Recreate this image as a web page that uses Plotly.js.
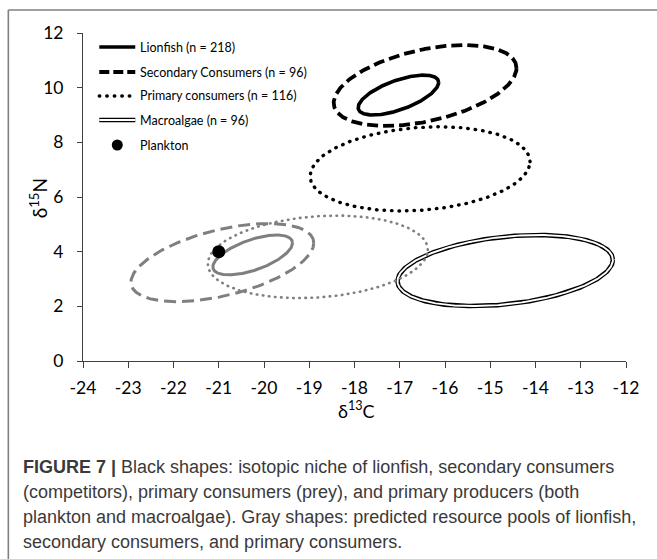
<!DOCTYPE html>
<html>
<head>
<meta charset="utf-8">
<script src="https://cdn.plot.ly/plotly-3.0.1.min.js"></script>
<style>
html,body{margin:0;padding:0;background:#fff;}
#chart{width:657px;height:559px;}
</style>
</head>
<body>
<div id="chart"></div>
<script>
// ---------- data ----------
const xTickVals = [-24, -23, -22, -21, -20, -19, -18, -17, -16, -15, -14, -13, -12];
const xTickText = ['-24', '-23', '-22', '-21', '-20', '-19', '-18', '-17', '-16', '-15', '-14', '-13', '-12'];
const yTickVals = [0, 2, 4, 6, 8, 10, 12];
const yTickText = ['0', '2', '4', '6', '8', '10', '12'];

const legendNames = ['Lionfish (n = 218)', 'Secondary Consumers (n = 96)', 'Primary consumers (n = 116)', 'Macroalgae (n = 96)', 'Plankton'];

// isotopic niches (black): lionfish, secondary consumers, primary consumers, macroalgae
const nicheCX = [-17.03, -16.44, -16.55, -14.67];
const nicheCY = [9.73, 10.08, 7.03, 3.31];
const nicheHalfW = [0.89, 2.02, 2.43, 2.38];
const nicheHalfH = [0.73, 1.48, 1.54, 1.30];
const nicheTilt = [0.63, 0.43, 0.17, 0.30];

// predicted resource pools (gray): lionfish, secondary consumers, primary consumers
const poolCX = [-20.25, -20.92, -18.81];
const poolCY = [3.88, 3.60, 3.81];
const poolHalfW = [0.88, 2.02, 2.43];
const poolHalfH = [0.73, 1.43, 1.51];
const poolTilt = [0.60, 0.50, 0.17];

// plankton
const planktonX = [-21.0];
const planktonY = [4.0];

const captionLines = [
  '<b>FIGURE 7 |</b> Black shapes: isotopic niche of lionfish, secondary consumers',
  '(competitors), primary consumers (prey), and primary producers (both',
  'plankton and macroalgae). Gray shapes: predicted resource pools of lionfish,',
  'secondary consumers, and primary consumers.'
];

// ---------- helpers ----------
function ellipse(cx, cy, hw, hh, tilt) {
  const psi = Math.acos(tilt);
  const xs = [], ys = [];
  const n = 360;
  for (let i = 0; i <= n; i++) {
    const p = 2 * Math.PI * i / n;
    xs.push(cx + hw * Math.cos(p));
    ys.push(cy + hh * Math.cos(p - psi));
  }
  return {x: xs, y: ys};
}

const GRAY = '#7f7f7f';
const nicheStyles = [
  {color: '#000', width: 3.6, dash: 'solid'},
  {color: '#000', width: 3.8, dash: '11px,5px'},
  {color: '#000', width: 3.4, dash: '0.5px,7px'}
];
const poolStyles = [
  {color: GRAY, width: 3, dash: 'solid'},
  {color: GRAY, width: 3, dash: '12px,6px'},
  {color: GRAY, width: 2.6, dash: '0.5px,5.6px'}
];

const traces = [];
const roundTraces = [];
for (let i = 0; i < 3; i++) {
  const e = ellipse(nicheCX[i], nicheCY[i], nicheHalfW[i], nicheHalfH[i], nicheTilt[i]);
  traces.push({type: 'scatter', mode: 'lines', x: e.x, y: e.y, name: legendNames[i],
    line: nicheStyles[i], hoverinfo: 'skip', showlegend: false});
  if (i === 2) roundTraces.push(traces.length - 1);
}
// macroalgae double line
{
  const e = ellipse(nicheCX[3], nicheCY[3], nicheHalfW[3], nicheHalfH[3], nicheTilt[3]);
  traces.push({type: 'scatter', mode: 'lines', x: e.x, y: e.y, name: legendNames[3],
    line: {color: '#000', width: 4.6}, hoverinfo: 'skip', showlegend: false});
  traces.push({type: 'scatter', mode: 'lines', x: e.x, y: e.y, name: legendNames[3] + ' inner',
    line: {color: '#fff', width: 1.9}, hoverinfo: 'skip', showlegend: false});
}
for (let i = 0; i < 3; i++) {
  const e = ellipse(poolCX[i], poolCY[i], poolHalfW[i], poolHalfH[i], poolTilt[i]);
  traces.push({type: 'scatter', mode: 'lines', x: e.x, y: e.y, name: 'Predicted pool: ' + legendNames[i],
    line: poolStyles[i], hoverinfo: 'skip', showlegend: false});
  if (i === 2) roundTraces.push(traces.length - 1);
}
traces.push({type: 'scatter', mode: 'markers', x: planktonX, y: planktonY, name: legendNames[4],
  marker: {color: '#000', size: 13}, hoverinfo: 'skip', showlegend: false});

// ---------- layout (pixel -> paper helpers) ----------
const PL = 82.7, PR = 626, PT = 33, PB = 361;
const px = v => (v - PL) / (PR - PL);
const py = v => (PB - v) / (PB - PT);

const legendRowsY = [47, 72, 96, 120, 145];
const shapes = [];
const roundShapes = [];
// frame (top and left edges)
shapes.push({type: 'line', xref: 'paper', yref: 'paper', x0: px(8), x1: px(657), y0: py(10), y1: py(10), line: {color: GRAY, width: 1.6}});
shapes.push({type: 'line', xref: 'paper', yref: 'paper', x0: px(8), x1: px(8), y0: py(10), y1: py(559), line: {color: GRAY, width: 1.6}});
// legend samples
for (let i = 0; i < 3; i++) {
  shapes.push({type: 'line', xref: 'paper', yref: 'paper', x0: px(99), x1: px(135), y0: py(legendRowsY[i]), y1: py(legendRowsY[i]),
    line: Object.assign({}, nicheStyles[i], i === 1 ? {dash: '10px,4px'} : {})});
  if (i === 2) roundShapes.push(shapes.length - 1);
}
shapes.push({type: 'line', xref: 'paper', yref: 'paper', x0: px(99), x1: px(135), y0: py(legendRowsY[3]), y1: py(legendRowsY[3]), line: {color: '#000', width: 4.6}});
shapes.push({type: 'line', xref: 'paper', yref: 'paper', x0: px(99), x1: px(135), y0: py(legendRowsY[3]), y1: py(legendRowsY[3]), line: {color: '#fff', width: 1.9}});
shapes.push({type: 'circle', xref: 'paper', yref: 'paper', xsizemode: 'pixel', ysizemode: 'pixel',
  xanchor: px(117), yanchor: py(legendRowsY[4]), x0: -5.5, x1: 5.5, y0: -5.5, y1: 5.5,
  fillcolor: '#000', line: {color: '#000', width: 0}});

const annotations = [];
for (let i = 0; i < legendNames.length; i++) {
  annotations.push({xref: 'paper', yref: 'paper', x: px(138), y: py(legendRowsY[i]), xanchor: 'left', yanchor: 'middle',
    text: legendNames[i], showarrow: false, font: {family: 'Lato, sans-serif', size: 12.5, color: '#000'}});
}
annotations.push({xref: 'paper', yref: 'paper', x: px(356.5), y: py(410), xanchor: 'center', yanchor: 'middle',
  text: 'δ<sup>13</sup>C', showarrow: false, font: {family: 'Lato, sans-serif', size: 18, color: '#000'}});
annotations.push({xref: 'paper', yref: 'paper', x: px(38), y: py(198), xanchor: 'center', yanchor: 'middle',
  text: 'δ<sup>15</sup>N', textangle: -90, showarrow: false, font: {family: 'Lato, sans-serif', size: 19, color: '#000'}});
const captionY = [467, 492, 517, 542];
for (let i = 0; i < captionLines.length; i++) {
  annotations.push({xref: 'paper', yref: 'paper', x: px(21), y: py(captionY[i]), xanchor: 'left', yanchor: 'middle',
    text: captionLines[i], showarrow: false, font: {family: 'Liberation Sans, Arial, sans-serif', size: 18, color: '#3a3a3a'}});
}

const axisFont = {family: 'Lato, sans-serif', size: 17.5, color: '#000'};
const layout = {
  width: 657, height: 559,
  margin: {l: PL, r: 657 - PR, t: PT, b: 559 - PB, pad: 0},
  paper_bgcolor: '#fff', plot_bgcolor: '#fff',
  showlegend: false,
  xaxis: {range: [-24, -12], tickmode: 'array', tickvals: xTickVals, ticktext: xTickText,
    ticks: 'outside', ticklen: 6, tickwidth: 1, tickcolor: '#404040',
    showline: true, linecolor: '#404040', linewidth: 1, showgrid: false, zeroline: false,
    tickfont: axisFont, ticklabelstandoff: 5, fixedrange: true},
  yaxis: {range: [0, 12], tickmode: 'array', tickvals: yTickVals, ticktext: yTickText,
    ticks: 'outside', ticklen: 5, tickwidth: 1, tickcolor: '#404040',
    showline: true, linecolor: '#404040', linewidth: 1, showgrid: false, zeroline: false,
    tickfont: axisFont, ticklabelstandoff: 10, fixedrange: true},
  shapes: shapes,
  annotations: annotations
};

Plotly.newPlot('chart', traces, layout, {staticPlot: true, displayModeBar: false}).then(gd => {
  const tr = gd.querySelectorAll('.scatterlayer .trace');
  roundTraces.forEach(i => {
    if (tr[i]) tr[i].querySelectorAll('path.js-line').forEach(p => p.style.strokeLinecap = 'round');
  });
  roundShapes.forEach(i => {
    gd.querySelectorAll('.shapelayer path[data-index="' + i + '"]').forEach(p => p.style.strokeLinecap = 'round');
  });
});
</script>
</body>
</html>
